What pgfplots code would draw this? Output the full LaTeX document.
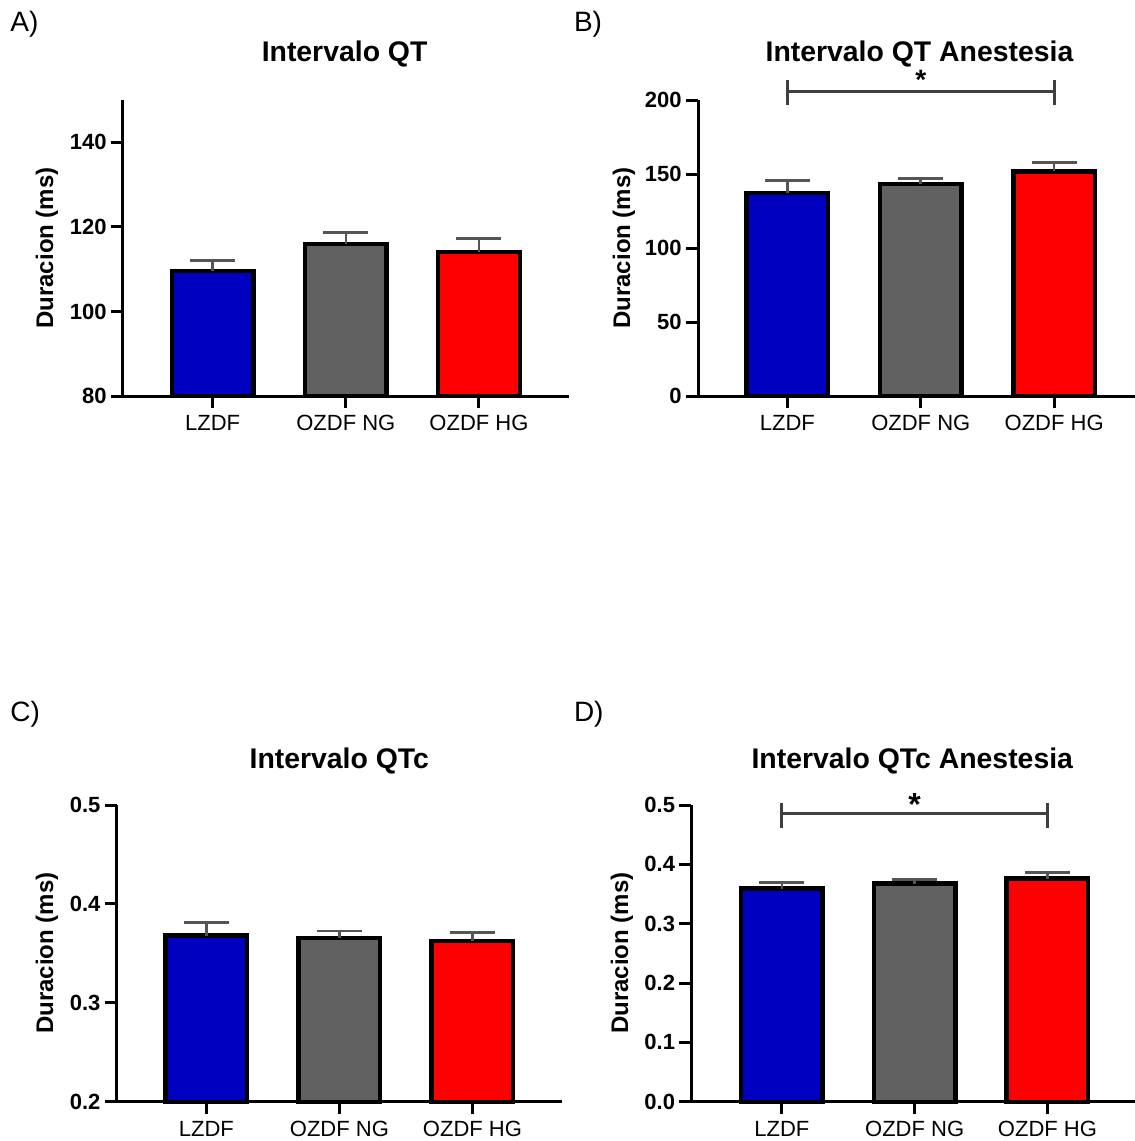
\documentclass[border=0pt]{standalone}
\usepackage{fontspec}
\setmainfont{Liberation Sans}
\usepackage{pgfplots}
\pgfplotsset{compat=1.18}

\definecolor{barblue}{RGB}{0,0,192}
\definecolor{bargray}{RGB}{97,97,97}
\definecolor{barred}{RGB}{255,0,0}
\definecolor{errgray}{RGB}{85,85,85}
\definecolor{siggray}{RGB}{64,64,64}

\pgfplotsset{
  panel/.style={
    scale only axis,
    anchor=south west,
    axis x line*=bottom,
    axis y line*=left,
    axis line style={-, line width=1.5pt, black},
    tick align=outside,
    major tick length=6pt,
    every tick/.style={black, line width=1.5pt},
    xtick={0,1,2},
    xticklabels={LZDF, OZDF NG, OZDF HG},
    xticklabel style={font=\fontsize{11}{13}\selectfont, inner sep=1pt, yshift=-2.5pt},
    yticklabel style={font=\bfseries\fontsize{11}{13}\selectfont, inner sep=1pt, xshift=-1pt},
    /pgf/number format/assume math mode=true,
    clip=false,
  },
  mybar/.style={ybar, bar shift=0pt, bar width=40.8pt, draw=black, line width=2.2pt, fill=#1,
    error bars/y dir=plus, error bars/y explicit,
    error bars/error bar style={errgray, line width=1.3pt},
    error bars/error mark options={rotate=90, errgray, line width=1.3pt, mark size=11.25pt}},
}

\begin{document}
\begin{tikzpicture}
\path[use as bounding box] (0,0) rectangle (567.5pt,-570.5pt);

% ---------- Panel A ----------
\node[inner sep=0pt, anchor=base west, font=\fontsize{14}{16}\selectfont] at (5pt,-15.5pt) {A)};
\node[inner sep=0pt, anchor=base, font=\bfseries\fontsize{14.2}{16}\selectfont] at (172.3pt,-30.85pt) {Intervalo QT};
\node[rotate=90, font=\bfseries\fontsize{12}{14}\selectfont] at (23.5pt,-124pt) {Duracion (ms)};
\begin{axis}[panel, at={(61.5pt,-198pt)}, width=222.8pt, height=148pt,
  xmin=-0.673, xmax=2.673, ymin=80, ymax=150, ytick={80,100,120,140}]
\addplot[mybar=barblue] coordinates {(0,109.5) +- (0,2.6)};
\addplot[mybar=bargray] coordinates {(1,116.0) +- (0,2.6)};
\addplot[mybar=barred] coordinates {(2,114.0) +- (0,3.2)};
\end{axis}

% ---------- Panel B ----------
\node[inner sep=0pt, anchor=base west, font=\fontsize{14}{16}\selectfont] at (286.8pt,-15.5pt) {B)};
\node[inner sep=0pt, anchor=base, font=\bfseries\fontsize{14.2}{16}\selectfont] at (459.75pt,-30.85pt) {Intervalo QT Anestesia};
\node[rotate=90, font=\bfseries\fontsize{12}{14}\selectfont] at (312pt,-124pt) {Duracion (ms)};
\begin{axis}[panel, at={(349pt,-198pt)}, width=218.5pt, height=148pt,
  xmin=-0.67, xmax=2.606, ymin=0, ymax=200, ytick={0,50,100,150,200}]
\addplot[mybar=barblue] coordinates {(0,137.2) +- (0,8.5)};
\addplot[mybar=bargray] coordinates {(1,143.2) +- (0,3.6)};
\addplot[mybar=barred] coordinates {(2,151.8) +- (0,6.1)};
\draw[siggray, line width=1.5pt] (axis cs:0,196.6) -- (axis cs:0,213.5);
\draw[siggray, line width=1.5pt] (axis cs:2,196.6) -- (axis cs:2,213.5);
\draw[siggray, line width=1.5pt] (axis cs:0,205.6) -- (axis cs:2,205.6);
\node[inner sep=0pt, anchor=base, font=\bfseries\fontsize{14}{14}\selectfont] at (axis cs:1,207.4) {*};
\end{axis}

% ---------- Panel C ----------
\node[inner sep=0pt, anchor=base west, font=\fontsize{14}{16}\selectfont] at (5pt,-360.85pt) {C)};
\node[inner sep=0pt, anchor=base, font=\bfseries\fontsize{14.2}{16}\selectfont] at (169.65pt,-384.15pt) {Intervalo QTc};
\node[rotate=90, font=\bfseries\fontsize{12}{14}\selectfont] at (23.5pt,-476.5pt) {Duracion (ms)};
\begin{axis}[panel, at={(58.4pt,-550.85pt)}, width=222.6pt, height=148.35pt,
  xmin=-0.673, xmax=2.673, ymin=0.2, ymax=0.5, ytick={0.2,0.3,0.4,0.5},
  /pgf/number format/fixed, /pgf/number format/fixed zerofill, /pgf/number format/precision=1]
\addplot[mybar=barblue] coordinates {(0,0.368) +- (0,0.013)};
\addplot[mybar=bargray] coordinates {(1,0.3658) +- (0,0.0068)};
\addplot[mybar=barred] coordinates {(2,0.3622) +- (0,0.0091)};
\end{axis}

% ---------- Panel D ----------
\node[inner sep=0pt, anchor=base west, font=\fontsize{14}{16}\selectfont] at (286.8pt,-360.85pt) {D)};
\node[inner sep=0pt, anchor=base, font=\bfseries\fontsize{14.2}{16}\selectfont] at (456.15pt,-384.15pt) {Intervalo QTc Anestesia};
\node[rotate=90, font=\bfseries\fontsize{12}{14}\selectfont] at (311pt,-476.5pt) {Duracion (ms)};
\begin{axis}[panel, at={(345.7pt,-550.85pt)}, width=221.8pt, height=148.35pt,
  xmin=-0.681, xmax=2.659, ymin=0, ymax=0.5, ytick={0,0.1,0.2,0.3,0.4,0.5},
  /pgf/number format/fixed, /pgf/number format/fixed zerofill, /pgf/number format/precision=1]
\addplot[mybar=barblue] coordinates {(0,0.359) +- (0,0.010)};
\addplot[mybar=bargray] coordinates {(1,0.3675) +- (0,0.0073)};
\addplot[mybar=barred] coordinates {(2,0.3759) +- (0,0.0107)};
\draw[siggray, line width=1.5pt] (axis cs:0,0.461) -- (axis cs:0,0.504);
\draw[siggray, line width=1.5pt] (axis cs:2,0.461) -- (axis cs:2,0.504);
\draw[siggray, line width=1.5pt] (axis cs:0,0.486) -- (axis cs:2,0.486);
\node[inner sep=0pt, anchor=base, font=\bfseries\fontsize{16}{16}\selectfont] at (axis cs:1,0.4825) {*};
\end{axis}
\end{tikzpicture}
\end{document}
